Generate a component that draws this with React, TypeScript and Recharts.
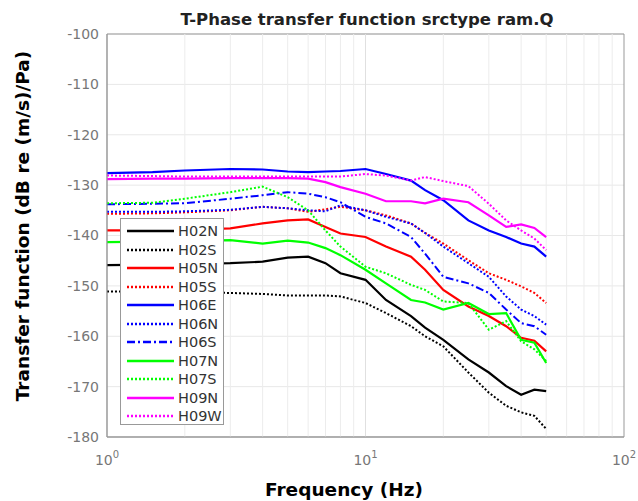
import { LineChart, Line, XAxis, YAxis, CartesianGrid, ReferenceLine, ReferenceArea } from 'recharts'

const FREQS = [1, 1.5, 2, 3, 4, 5, 6, 7, 8, 10, 12, 15, 17, 20, 25, 30, 35, 40, 45, 50]

const H02N = [-145.9, -145.8, -145.7, -145.5, -145.2, -144.4, -144.2, -145.5, -147.5, -148.8, -152.8, -156, -158.3, -160.7, -164.6, -167.2, -169.9, -171.6, -170.6, -170.9]
const H02S = [-151.1, -151.2, -151.3, -151.4, -151.6, -151.9, -151.9, -151.9, -152.1, -153.4, -155.4, -158, -160, -162, -167.2, -171.2, -173.8, -175.1, -175.8, -178.4]
const H05N = [-139, -139, -138.9, -138.6, -137.6, -137, -136.8, -138.3, -139.6, -140.3, -142.2, -144.2, -146.8, -150.8, -154.1, -156, -158, -160.3, -160.9, -163]
const H05S = [-135.7, -135.6, -135.4, -135, -134.3, -134.6, -135.3, -134.8, -134.3, -135, -136, -137.6, -139.5, -141.6, -144.9, -147.5, -148.8, -150.1, -151.4, -153.4]
const H06E = [-127.6, -127.4, -127.1, -126.8, -126.9, -127.3, -127.4, -127.3, -127.2, -126.8, -127.8, -129.1, -131, -133, -137, -139, -140.3, -141.6, -142.2, -144.2]
const H06N = [-135.3, -135.3, -135.2, -134.9, -134.3, -134.6, -135, -135.2, -134, -135, -136.3, -137.6, -139.5, -142.2, -145.5, -148.2, -152.1, -154.7, -156, -157.7]
const H06S = [-133.8, -133.7, -133.6, -132.7, -132, -131.4, -131.7, -132.4, -133.4, -136.3, -137.6, -140.3, -143.6, -148.2, -149.5, -151.4, -154.7, -157.4, -158, -159.7]
const H07N = [-141.3, -141.2, -141.1, -140.9, -141.6, -141, -141.4, -142.5, -143.9, -146.8, -149.5, -152.8, -153.3, -154.7, -153.4, -155.6, -155.4, -160.7, -161.3, -165.3]
const H07S = [-133.6, -133.5, -132.7, -131.4, -130.3, -132.4, -135, -139, -142.2, -146.2, -147.5, -149.8, -150.8, -153.1, -153.4, -158.7, -157, -161, -162.6, -164.9]
const H09N = [-128.8, -128.7, -128.7, -128.6, -128.6, -128.6, -128.7, -129.4, -130.4, -131.7, -133.2, -133.2, -133.6, -132.7, -133.4, -136, -138.3, -137.8, -138.5, -140.3]
const H09W = [-128.1, -128.2, -128.3, -128.3, -128.3, -128.3, -128.3, -128.3, -128.3, -127.8, -128.1, -129.1, -128.4, -129.2, -130.2, -133.7, -137, -139, -140.6, -142.9]

const Y_TICKS = [-180, -170, -160, -150, -140, -130, -120, -110, -100]
const X_TICKS = [1, 10, 100]
const MINOR_X = [2, 3, 4, 5, 6, 7, 8, 9, 20, 30, 40, 50, 60, 70, 80, 90]

const SERIES = [
  { key: 'H02N', values: H02N, color: '#000000', dash: undefined },
  { key: 'H02S', values: H02S, color: '#000000', dash: '2 2' },
  { key: 'H05N', values: H05N, color: '#ff0000', dash: undefined },
  { key: 'H05S', values: H05S, color: '#ff0000', dash: '2 2' },
  { key: 'H06E', values: H06E, color: '#0000ff', dash: undefined },
  { key: 'H06N', values: H06N, color: '#0000ff', dash: '2 2' },
  { key: 'H06S', values: H06S, color: '#0000ff', dash: '8 3 2 3' },
  { key: 'H07N', values: H07N, color: '#00ff00', dash: undefined },
  { key: 'H07S', values: H07S, color: '#00ff00', dash: '2 2' },
  { key: 'H09N', values: H09N, color: '#ff00ff', dash: undefined },
  { key: 'H09W', values: H09W, color: '#ff00ff', dash: '2 2' },
]

const data = FREQS.map((f, i) => {
  const row: Record<string, number> = { f }
  SERIES.forEach((s) => {
    row[s.key] = s.values[i]
  })
  return row
})

const FONT = '"DejaVu Sans", sans-serif'

const LogTick = ({ x, y, payload }: any) => {
  const exp = Math.round(Math.log10(payload.value))
  return (
    <text x={x} y={y + 20} textAnchor="middle" fill="#777" fontSize={14} fontFamily={FONT}>
      10<tspan dy={-7} fontSize={10}>{exp}</tspan>
    </text>
  )
}

const ChartLegend = () => (
  <div
    style={{
      position: 'absolute',
      left: 120,
      top: 218,
      width: 104,
      height: 207,
      border: '1px solid #999',
      background: '#fff',
      boxSizing: 'border-box',
      paddingTop: 3,
    }}
  >
    {SERIES.map((s) => (
      <div key={s.key} style={{ display: 'flex', alignItems: 'center', height: 18.5 }}>
        <svg width={54} height={10} style={{ marginLeft: 3 }}>
          <line x1={3} y1={5} x2={50} y2={5} stroke={s.color} strokeWidth={2.5} strokeDasharray={s.dash} />
        </svg>
        <span style={{ fontFamily: FONT, fontSize: 14.5, color: '#333' }}>{s.key}</span>
      </div>
    ))}
  </div>
)

export default function App() {
  return (
    <div style={{ position: 'absolute', left: 0, top: 0, width: 638, height: 501, background: '#fff' }}>
      <LineChart width={638} height={501} data={data} margin={{ top: 34, right: 14, bottom: 34, left: 47 }}>
        <CartesianGrid vertical={false} stroke="#e8e8e8" />
        {MINOR_X.map((f) => (
          <ReferenceLine key={f} x={f} stroke="#ececec" />
        ))}
        <ReferenceLine x={10} stroke="#e0e0e0" />
        <XAxis
          dataKey="f"
          type="number"
          scale="log"
          domain={[1, 100]}
          ticks={X_TICKS}
          tick={<LogTick />}
          tickLine={false}
          axisLine={{ stroke: '#999' }}
          height={30}
          allowDataOverflow
        />
        <YAxis
          type="number"
          domain={[-180, -100]}
          ticks={Y_TICKS}
          tick={{ fill: '#777', fontSize: 14, fontFamily: FONT }}
          tickLine={false}
          axisLine={{ stroke: '#999' }}
          width={60}
          interval={0}
        />
        <ReferenceArea x1={1} x2={100} y1={-180} y2={-100} fill="none" stroke="#999" />
        {SERIES.map((s) => (
          <Line
            key={s.key}
            dataKey={s.key}
            stroke={s.color}
            strokeWidth={s.dash ? 2 : 2.2}
            strokeDasharray={s.dash}
            dot={false}
            isAnimationActive={false}
          />
        ))}
        <text x={367} y={25} textAnchor="middle" fontFamily={FONT} fontWeight="bold" fontSize={16.5} fill="#222">
          T-Phase transfer function srctype ram.Q
        </text>
        <text x={344} y={496} textAnchor="middle" fontFamily={FONT} fontWeight="bold" fontSize={18.5} fill="#000">
          Frequency (Hz)
        </text>
        <text
          x={29}
          y={226}
          textAnchor="middle"
          fontFamily={FONT}
          fontWeight="bold"
          fontSize={18.5}
          fill="#000"
          transform="rotate(-90 29 226)"
        >
          Transfer function (dB re (m/s)/Pa)
        </text>
      </LineChart>
      <ChartLegend />
    </div>
  )
}
